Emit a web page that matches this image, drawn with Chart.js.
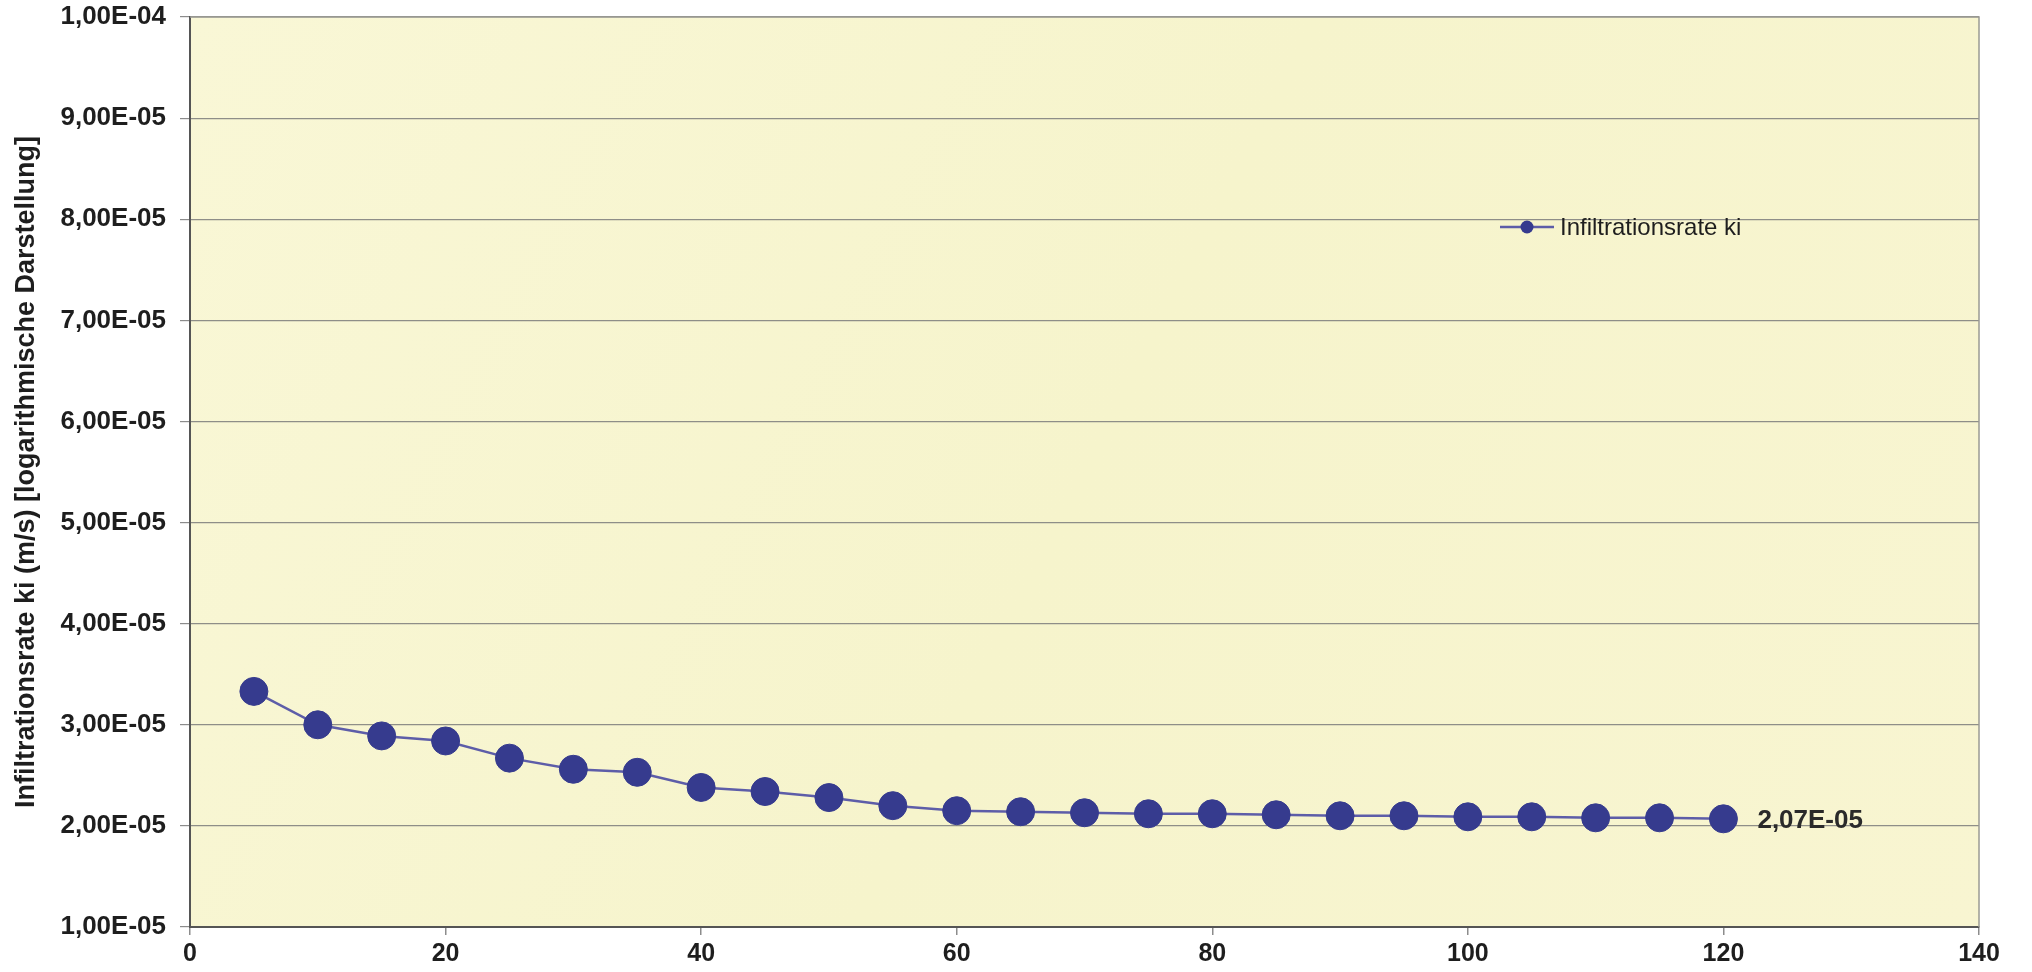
<!DOCTYPE html>
<html>
<head>
<meta charset="utf-8">
<script src="https://cdn.jsdelivr.net/npm/chart.js@4/dist/chart.umd.min.js"></script>
<style>
  html, body { margin: 0; padding: 0; background: #ffffff; }
  #wrap { width: 2032px; height: 972px; }
</style>
</head>
<body>
<div id="wrap"><canvas id="c" width="2032" height="972"></canvas></div>
<script>
// Time steps (min) and measured infiltration rate ki (m/s)
const zeit = [5, 10, 15, 20, 25, 30, 35, 40, 45, 50, 55, 60, 65, 70, 75, 80, 85, 90, 95, 100, 105, 110, 115, 120];
const ki = [3.33e-5, 3.00e-5, 2.89e-5, 2.84e-5, 2.67e-5, 2.56e-5, 2.53e-5, 2.38e-5, 2.34e-5, 2.28e-5,
            2.20e-5, 2.15e-5, 2.14e-5, 2.13e-5, 2.12e-5, 2.12e-5, 2.11e-5, 2.10e-5, 2.10e-5, 2.09e-5,
            2.09e-5, 2.08e-5, 2.08e-5, 2.07e-5];
const yTicks = [1e-5, 2e-5, 3e-5, 4e-5, 5e-5, 6e-5, 7e-5, 8e-5, 9e-5, 1e-4];
const xTicks = [0, 20, 40, 60, 80, 100, 120, 140];
const serienName = 'Infiltrationsrate ki';
const yTitel = 'Infiltrationsrate ki (m/s) [logarithmische Darstellung]';

const FONT = '"Liberation Sans", Arial, Helvetica, sans-serif';
const MARKER = '#363b8e';
const LINIE = '#5d5da8';

// German scientific notation, e.g. 2,07E-05
function sci(v) {
  const s = v.toExponential(2);
  const [m, e] = s.split('e');
  const n = parseInt(e, 10);
  const ex = (n < 0 ? '-' : '+') + String(Math.abs(n)).padStart(2, '0');
  return m.replace('.', ',') + 'E' + ex;
}

// Pale yellow plot background with a frame
const plotArea = {
  id: 'plotArea',
  beforeDraw(chart) {
    const { ctx, chartArea: a } = chart;
    ctx.save();
    const g = ctx.createLinearGradient(a.left, a.top, a.right, a.bottom);
    g.addColorStop(0, '#f9f7d6');
    g.addColorStop(0.5, '#f6f4cc');
    g.addColorStop(1, '#f8f5d1');
    ctx.fillStyle = g;
    ctx.fillRect(a.left, a.top, a.right - a.left, a.bottom - a.top);
    ctx.restore();
  },
  afterDatasetsDraw(chart) {
    const { ctx, chartArea: a } = chart;
    ctx.save();
    ctx.strokeStyle = '#9a9a94';
    ctx.lineWidth = 1.5;
    ctx.beginPath();
    ctx.moveTo(a.left, a.top);
    ctx.lineTo(a.right, a.top);
    ctx.lineTo(a.right, a.bottom);
    ctx.stroke();
    ctx.restore();
  }
};

// Legend entry: line with marker and series name
const legende = {
  id: 'legende',
  afterDatasetsDraw(chart) {
    const { ctx } = chart;
    const ds = chart.data.datasets[0];
    const x0 = 1500, x1 = 1554, y = 227;
    ctx.save();
    ctx.strokeStyle = ds.borderColor;
    ctx.lineWidth = 2.5;
    ctx.beginPath();
    ctx.moveTo(x0, y);
    ctx.lineTo(x1, y);
    ctx.stroke();
    ctx.fillStyle = ds.pointBackgroundColor;
    ctx.beginPath();
    ctx.arc((x0 + x1) / 2, y, 6.5, 0, Math.PI * 2);
    ctx.fill();
    ctx.fillStyle = '#1e1e1e';
    ctx.font = '24px ' + FONT;
    ctx.textAlign = 'left';
    ctx.textBaseline = 'middle';
    ctx.fillText(ds.label, x1 + 6, y + 1);
    ctx.restore();
  }
};

// Value label beside the last measurement
const endwert = {
  id: 'endwert',
  afterDatasetsDraw(chart) {
    const meta = chart.getDatasetMeta(0);
    const i = meta.data.length - 1;
    const pt = meta.data[i];
    const v = chart.data.datasets[0].data[i].y;
    const { ctx } = chart;
    ctx.save();
    ctx.fillStyle = '#2a2a2a';
    ctx.font = 'bold 26px ' + FONT;
    ctx.textAlign = 'left';
    ctx.textBaseline = 'middle';
    ctx.fillText(sci(v), pt.x + 34, pt.y + 2);
    ctx.restore();
  }
};

new Chart(document.getElementById('c'), {
  type: 'line',
  data: {
    datasets: [{
      label: serienName,
      data: zeit.map((t, i) => ({ x: t, y: ki[i] })),
      borderColor: LINIE,
      borderWidth: 2.5,
      pointBackgroundColor: MARKER,
      pointBorderColor: MARKER,
      pointBorderWidth: 1,
      pointRadius: 14,
      pointHoverRadius: 14,
      tension: 0,
      fill: false
    }]
  },
  options: {
    responsive: false,
    animation: false,
    devicePixelRatio: 1,
    layout: { padding: { top: 17, right: 53, left: 0, bottom: 0 } },
    plugins: {
      legend: { display: false },
      tooltip: { enabled: false }
    },
    scales: {
      x: {
        type: 'linear',
        min: 0,
        max: 140,
        afterBuildTicks(scale) { scale.ticks = xTicks.map(v => ({ value: v })); },
        afterFit(scale) {
          scale.height = 45;
          scale.paddingLeft = 0;
          scale.paddingRight = 0;
        },
        grid: {
          drawOnChartArea: false,
          drawTicks: true,
          tickLength: 8,
          color: '#8c8c8c',
          lineWidth: 1.5
        },
        border: { display: true, color: '#555555', width: 2 },
        ticks: {
          color: '#1e1e1e',
          font: { family: FONT, size: 25, weight: 'bold' },
          padding: 4,
          maxRotation: 0,
          callback: v => String(v)
        }
      },
      y: {
        type: 'linear',
        min: 1e-5,
        max: 1e-4,
        afterBuildTicks(scale) { scale.ticks = yTicks.map(v => ({ value: v })); },
        afterFit(scale) {
          scale.width = 190;
          scale.paddingTop = 0;
          scale.paddingBottom = 0;
        },
        grid: {
          color: '#8e8e88',
          lineWidth: 1.2,
          drawTicks: true,
          tickLength: 10,
          tickColor: '#8c8c8c'
        },
        border: { display: true, color: '#555555', width: 2 },
        ticks: {
          color: '#1e1e1e',
          font: { family: FONT, size: 26, weight: 'bold' },
          padding: 14,
          callback: v => sci(v)
        },
        title: {
          display: true,
          text: yTitel,
          color: '#1e1e1e',
          font: { family: FONT, size: 27, weight: 'bold' },
          padding: { top: 10, bottom: 0 }
        }
      }
    }
  },
  plugins: [plotArea, legende, endwert]
});
</script>
</body>
</html>
